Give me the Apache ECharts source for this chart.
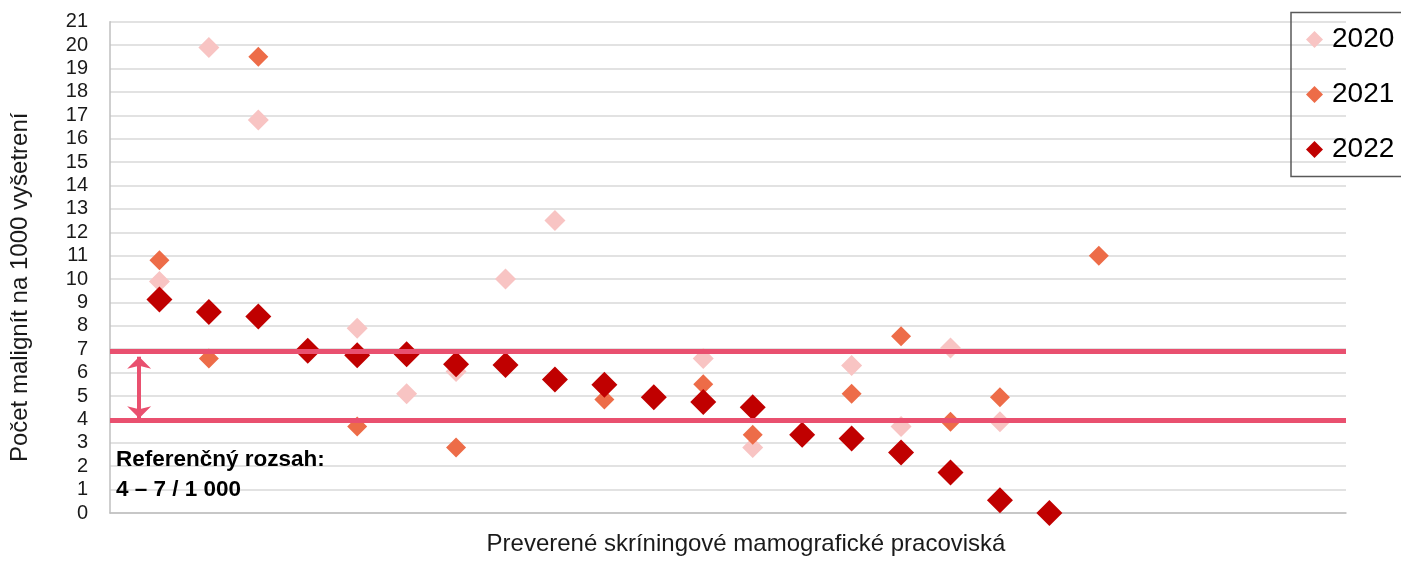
<!DOCTYPE html>
<html>
<head>
<meta charset="utf-8">
<script src="https://cdn.jsdelivr.net/npm/echarts@6/dist/echarts.min.js"></script>
<style>
html,body{margin:0;padding:0;background:#fff;overflow:hidden;}
#chart{width:1401px;height:561px;}
</style>
</head>
<body>
<div id="chart"></div>
<script>
// Data (x = pracovisko index, value = počet malignít na 1000 vyšetrení)
const seriesNames = ['2020', '2021', '2022'];
const x2020 = [1, 2, 3, 5, 6, 7, 8, 9, 12, 13, 15, 16, 17, 18];
const v2020 = [9.9, 19.9, 16.8, 7.9, 5.1, 6.05, 10.0, 12.5, 6.6, 2.8, 6.3, 3.7, 7.05, 3.9];
const x2021 = [1, 2, 3, 5, 7, 10, 12, 13, 15, 16, 17, 18, 20];
const v2021 = [10.8, 6.6, 19.5, 3.7, 2.8, 4.85, 5.5, 3.35, 5.1, 7.55, 3.9, 4.95, 11.0];
const x2022 = [1, 2, 3, 4, 5, 6, 7, 8, 9, 10, 11, 12, 13, 14, 15, 16, 17, 18, 19];
const v2022 = [9.13, 8.59, 8.4, 6.93, 6.74, 6.79, 6.36, 6.33, 5.71, 5.48, 4.95, 4.74, 4.52, 3.34, 3.18, 2.59, 1.73, 0.55, 0.0];
const refLow = 3.97;
const refHigh = 6.93;
const arrowX = 0.59;
const arrowFrom = 4.05;
const arrowTo = 6.68;
const yTicks = [0,1,2,3,4,5,6,7,8,9,10,11,12,13,14,15,16,17,18,19,20,21];

const colors = ['#F8C4C3', '#ED6C48', '#C00000'];
const pair = (xs, vs) => xs.map((x, i) => [x, vs[i]]);
const FONT = 'Liberation Sans';

const chart = echarts.init(document.getElementById('chart'));
chart.setOption({
  animation: false,
  backgroundColor: '#fff',
  textStyle: { fontFamily: FONT },
  grid: { left: 110, right: 55, top: 21.7, bottom: 42 },
  legend: {
    orient: 'vertical',
    left: 1291, top: 12.5,
    padding: [13, 40, 13, 15],
    itemGap: 27,
    itemWidth: 17, itemHeight: 17,
    borderColor: '#595959', borderWidth: 1.5,
    textStyle: { fontSize: 28, color: '#000', fontFamily: FONT, padding: [0, 0, 0, 4] },
    data: seriesNames.map(n => ({ name: n, icon: 'diamond' }))
  },
  xAxis: {
    type: 'value', min: 0, max: 25, interval: 1,
    axisLine: { show: true, lineStyle: { color: '#bfbfbf', width: 1.5 } },
    axisTick: { show: false }, axisLabel: { show: false }, splitLine: { show: false },
    name: 'Preverené skríningové mamografické pracoviská',
    nameLocation: 'middle', nameGap: 19,
    nameTextStyle: { fontSize: 24, color: '#1a1a1a', fontFamily: FONT, padding: [0, 0, 0, 36] }
  },
  yAxis: {
    type: 'value', min: 0, max: 21, interval: 1,
    axisLine: { show: true, lineStyle: { color: '#bfbfbf', width: 1.5 } },
    axisTick: { show: false },
    axisLabel: { fontSize: 20, color: '#1a1a1a', margin: 22, fontFamily: FONT,
      formatter: v => yTicks.includes(v) ? String(v) : '' },
    splitLine: { show: true, lineStyle: { color: '#d9d9d9', width: 1.5 } },
    name: 'Počet malignít na 1000 vyšetrení',
    nameLocation: 'middle', nameGap: 78, nameRotate: 90,
    nameTextStyle: { fontSize: 24, color: '#1a1a1a', fontFamily: FONT, padding: [0, 40, 0, 0] }
  },
  series: [
    { name: '2020', type: 'scatter', symbol: 'diamond', symbolSize: 21,
      itemStyle: { color: colors[0], opacity: 1 }, data: pair(x2020, v2020) },
    { name: '2021', type: 'scatter', symbol: 'diamond', symbolSize: 20,
      itemStyle: { color: colors[1], opacity: 1 }, data: pair(x2021, v2021) },
    { name: '2022', type: 'scatter', symbol: 'diamond', symbolSize: 26,
      itemStyle: { color: colors[2], opacity: 1 }, data: pair(x2022, v2022),
      markLine: {
        silent: true, animation: false,
        label: { show: false },
        lineStyle: { color: '#E9506F', type: 'solid' },
        data: [
          [ { coord: [0, refHigh], symbol: 'none', lineStyle: { width: 5, color: '#E9506F' } },
            { coord: [25, refHigh], symbol: 'none' } ],
          [ { coord: [0, refLow], symbol: 'none', lineStyle: { width: 5, color: '#E9506F' } },
            { coord: [25, refLow], symbol: 'none' } ],
          [ { coord: [arrowX, arrowFrom], symbol: 'arrow', symbolSize: [18, 12], lineStyle: { width: 4, color: '#E9506F' } },
            { coord: [arrowX, arrowTo], symbol: 'arrow', symbolSize: [18, 12] } ]
        ]
      }
    }
  ],
  graphic: [
    { type: 'text', left: 116, top: 445, z: 10,
      style: { text: 'Referenčný rozsah:\n4 – 7 / 1 000', fontSize: 22.5, fontWeight: 'bold',
        fill: '#000', fontFamily: FONT, lineHeight: 30 } }
  ]
});
</script>
</body>
</html>
